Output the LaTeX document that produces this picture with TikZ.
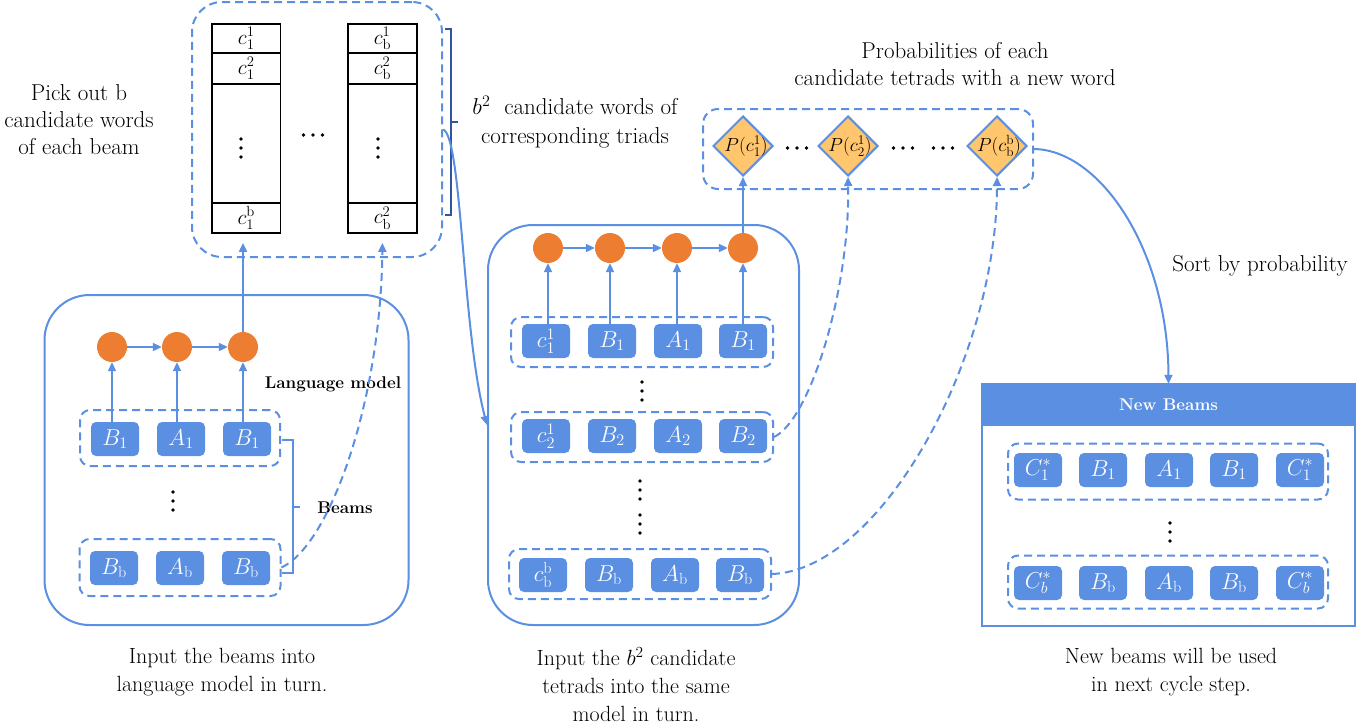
\RequirePackage{fix-cm}
\documentclass[tikz,border=0pt]{standalone}
\usepackage{fontspec}
\usetikzlibrary{arrows.meta,shapes.geometric}
\definecolor{myblue}{HTML}{5B8FE2}
\definecolor{dkblue}{HTML}{2F55A0}
\definecolor{myorange}{HTML}{ED7D31}
\definecolor{mydiam}{HTML}{FFC66E}
\begin{document}
\begin{tikzpicture}[x=1pt,y=-1pt,
  tok/.style={rectangle, rounded corners=5pt, fill=myblue, minimum width=48pt, minimum height=34pt, inner sep=0pt, text=white, font=\fontsize{23}{26}\selectfont},
  rnn/.style={circle, fill=myorange, minimum size=30pt, inner sep=0pt},
  grp/.style={draw=myblue, line width=2pt, dash pattern=on 8pt off 5pt, rounded corners=10pt, inner sep=0pt},
  big/.style={draw=myblue, line width=2pt, rounded corners=45pt, inner sep=0pt},
  arr/.style={draw=myblue, line width=2pt, -{Triangle[length=9pt,width=8pt]}},
  darr/.style={arr, dash pattern=on 8pt off 5pt},
  cell/.style={draw=black, line width=1.8pt, inner sep=0pt, font=\fontsize{21}{24}\selectfont},
  txt/.style={font=\fontsize{23}{27}\selectfont, align=center, inner sep=0pt},
  btxt/.style={font=\fontsize{22}{28}\selectfont, align=center, inner sep=0pt},
  bld/.style={font=\fontsize{17}{20}\selectfont\bfseries, inner sep=0pt},
  diam/.style={diamond, draw=myblue, line width=2pt, fill=mydiam, minimum width=60pt, minimum height=60pt, inner sep=0pt},
  dlab/.style={font=\fontsize{19}{22}\selectfont, inner sep=0pt},
  vdts/.pic={\fill (0,-9) circle[radius=1.8pt]; \fill (0,0) circle[radius=1.8pt]; \fill (0,9) circle[radius=1.8pt];},
  hdts/.pic={\fill (-9.5,0) circle[radius=1.8pt]; \fill (0,0) circle[radius=1.8pt]; \fill (9.5,0) circle[radius=1.8pt];}
]
\useasboundingbox (0,0) rectangle (1357,724);

% ---------- left: language model ----------
\node[big, minimum width=364pt, minimum height=330pt] (lm) at (226.5,460) {};
\node[rnn] (lc1) at (112,347) {};
\node[rnn] (lc2) at (177,347) {};
\node[rnn] (lc3) at (243,347) {};
\node[grp, minimum width=200pt, minimum height=56pt] (lg1) at (180,438) {};
\node[grp, minimum width=201pt, minimum height=57pt] (lgb) at (180,567.5) {};
\node[tok] (lt1) at (115,439) {$B_1$};
\node[tok] (lt2) at (181,439) {$A_1$};
\node[tok] (lt3) at (247,439) {$B_1$};
\node[tok] (lb1) at (114,568) {$B_{\mathrm{b}}$};
\node[tok] (lb2) at (180,568) {$A_{\mathrm{b}}$};
\node[tok] (lb3) at (246,568) {$B_{\mathrm{b}}$};
\pic at (173,501) {vdts};
\draw[arr] (lc1) -- (lc2);
\draw[arr] (lc2) -- (lc3);
\draw[arr] (lt1.north -| lc1) -- (lc1.south);
\draw[arr] (lt2.north -| lc2) -- (lc2.south);
\draw[arr] (lt3.north -| lc3) -- (lc3.south);
\node[bld] (lmlbl) at (333,384) {Language model};
\draw[myblue, line width=2pt] (282,440) -- (293,440) -- (293,573) -- (282,573);
\draw[myblue, line width=2pt] (293,507) -- (300,507);
\node[bld] (beamslbl) at (345,508) {Beams};

% ---------- top: candidate words ----------
\node[grp, rounded corners=30pt, minimum width=250pt, minimum height=255pt] (tb) at (317,129.5) {};
\node[cell, minimum width=68.5pt, minimum height=29pt] (a1) at (246.25,38.5) {$c_1^1$};
\node[cell, minimum width=68.5pt, minimum height=31pt] (a2) at (246.25,68.5) {$c_1^2$};
\node[cell, minimum width=68.5pt, minimum height=119pt] (a3) at (246.25,143.5) {};
\node[cell, minimum width=68.5pt, minimum height=30pt] (a4) at (246.25,218) {$c_1^{\mathrm{b}}$};
\node[cell, minimum width=69pt, minimum height=29pt] (b1) at (382.5,38.5) {$c_{\mathrm{b}}^1$};
\node[cell, minimum width=69pt, minimum height=31pt] (b2) at (382.5,68.5) {$c_{\mathrm{b}}^2$};
\node[cell, minimum width=69pt, minimum height=119pt] (b3) at (382.5,143.5) {};
\node[cell, minimum width=69pt, minimum height=30pt] (b4) at (382.5,218) {$c_{\mathrm{b}}^2$};
\pic at (241,148) {vdts};
\pic at (378,148) {vdts};
\pic at (313,135) {hdts};
\draw[arr, shorten >=9pt] (lc3) -- (lc3 |- a4.south);
\draw[darr, shorten >=9pt] (lgb.east) .. controls (330,545) and (381,400) .. (b4.south);
\node[txt] (picklbl) at (79,120) {Pick out b\\candidate words\\of each beam};
\draw[dkblue, line width=1.5pt] (445,29) -- (451,29) -- (451,215) -- (445,215);
\draw[dkblue, line width=1.5pt] (451,122) -- (458,122);
\node[txt, font=\fontsize{23}{29}\selectfont] (b2lbl) at (575,122) {$b^2$\ \ candidate words of\\corresponding triads};

% ---------- middle: same model ----------
\node[big, minimum width=311pt, minimum height=400pt] (mb) at (643.5,425) {};
\draw[arr] (tb.east) .. controls (462,135) and (462,330) .. (mb.west);
\node[rnn] (mc1) at (548,248) {};
\node[rnn] (mc2) at (610,248) {};
\node[rnn] (mc3) at (677,248) {};
\node[rnn] (mc4) at (743,248) {};
\node[grp, minimum width=262pt, minimum height=50pt] (mg1) at (642,342) {};
\node[grp, minimum width=262pt, minimum height=50pt] (mg2) at (642,437) {};
\node[grp, minimum width=262pt, minimum height=50pt] (mgb) at (640,574) {};
\node[tok] (mt1) at (546,341) {$c_1^1$};
\node[tok] (mt2) at (612,341) {$B_1$};
\node[tok] (mt3) at (678,341) {$A_1$};
\node[tok] (mt4) at (743,341) {$B_1$};
\node[tok] (ms1) at (546,436) {$c_2^1$};
\node[tok] (ms2) at (612,436) {$B_2$};
\node[tok] (ms3) at (678,436) {$A_2$};
\node[tok] (ms4) at (743,436) {$B_2$};
\node[tok] (mu1) at (543,575) {$c_{\mathrm{b}}^{\mathrm{b}}$};
\node[tok] (mu2) at (609,575) {$B_{\mathrm{b}}$};
\node[tok] (mu3) at (675,575) {$A_{\mathrm{b}}$};
\node[tok] (mu4) at (740,575) {$B_{\mathrm{b}}$};
\pic at (642,391) {vdts};
\pic at (640,490) {vdts};
\pic at (640,524) {vdts};
\draw[arr] (mc1) -- (mc2);
\draw[arr] (mc2) -- (mc3);
\draw[arr] (mc3) -- (mc4);
\draw[arr] (mt1.north -| mc1) -- (mc1.south);
\draw[arr] (mt2.north -| mc2) -- (mc2.south);
\draw[arr] (mt3.north -| mc3) -- (mc3.south);
\draw[arr] (mt4.north -| mc4) -- (mc4.south);

% ---------- probabilities ----------
\node[grp, rounded corners=15pt, minimum width=330pt, minimum height=80pt] (dg) at (868,149) {};
\node[diam] (d1) at (743,146) {};
\node[diam] (d2) at (848,146) {};
\node[diam] (d3) at (997,146) {};
\node[dlab] (d1t) at (746,146) {$P(c_1^1)$};
\node[dlab] (d2t) at (850,146) {$P(c_2^1)$};
\node[dlab] (d3t) at (999,146) {$P\bigl(c_{\mathrm{b}}^{\mathrm{b}}\bigr)$};
\pic at (797,148) {hdts};
\pic at (903,148) {hdts};
\pic at (943,148) {hdts};
\node[txt] (problbl) at (955,64) {Probabilities of each\\candidate tetrads with a new word};
\draw[arr] (mc4) -- (d1.south);
\draw[darr] (mg2.east) .. controls (810,420) and (850,290) .. (d2.south);
\draw[darr] (mgb.east) .. controls (880,570) and (997,360) .. (d3.south);

% ---------- new beams ----------
\node[draw=myblue, line width=2pt, minimum width=373pt, minimum height=242pt, inner sep=0pt] (nb) at (1168.5,505) {};
\node[fill=myblue, minimum width=373pt, minimum height=42pt, text=white, bld] (nbh) at (1168.5,405) {New Beams};
\draw[arr] (dg.east) .. controls (1100,150) and (1168,250) .. (nbh.north);
\node[txt] (sortlbl) at (1260,266) {Sort by probability};
\node[grp, minimum width=320pt, minimum height=56pt] (ng1) at (1168,471.5) {};
\node[grp, minimum width=320pt, minimum height=53pt] (ngb) at (1168,582) {};
\node[tok] (n11) at (1038,470) {$C_1^*$};
\node[tok] (n12) at (1103,470) {$B_1$};
\node[tok] (n13) at (1169,470) {$A_1$};
\node[tok] (n14) at (1234,470) {$B_1$};
\node[tok] (n15) at (1300,470) {$C_1^*$};
\node[tok] (nb1) at (1038,583) {$C_b^*$};
\node[tok] (nb2) at (1103,583) {$B_{\mathrm{b}}$};
\node[tok] (nb3) at (1169,583) {$A_{\mathrm{b}}$};
\node[tok] (nb4) at (1234,583) {$B_{\mathrm{b}}$};
\node[tok] (nb5) at (1300,583) {$C_b^*$};
\pic at (1170,532) {vdts};

% ---------- captions ----------
\node[btxt] (cap1) at (222,672) {Input the beams into\\language model in turn.};
\node[btxt] (cap2) at (636,685) {Input the $b^2$ candidate\\tetrads into the same\\model in turn.};
\node[btxt] (cap3) at (1171,672) {New beams will be used\\in next cycle step.};
\end{tikzpicture}
\end{document}
